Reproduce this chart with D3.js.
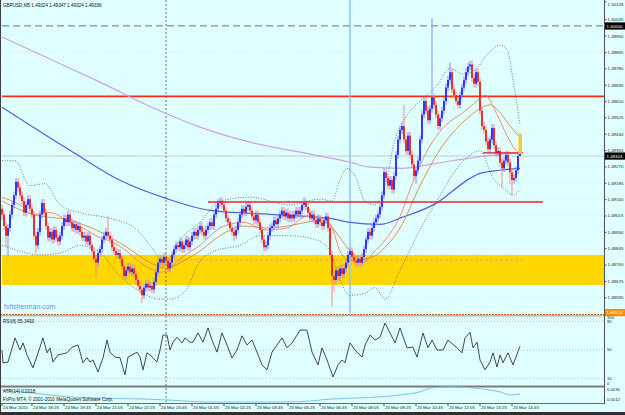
<!DOCTYPE html>
<html>
<head>
<meta charset="utf-8">
<script src="https://cdn.jsdelivr.net/npm/d3@7"></script>
<style>
  body { margin: 0; background: #e0ffff; }
  svg { display: block; font-family: "Liberation Sans", Arial, sans-serif; }
</style>
</head>
<body>
<div id="chart"></div>
<script>
// GBPUSD M5 candles, bar 0 = 24 Mar 17:10
const opens = [1.4905,1.4902,1.4896,1.4891,1.4895,1.4902,1.4907,1.4912,1.4919,1.4916,
1.4912,1.4909,1.4903,1.4907,1.4910,1.4905,1.4902,1.4891,1.4886,1.4893,
1.4902,1.4908,1.4903,1.4896,1.4890,1.4893,1.4889,1.4894,1.4890,1.4888,
1.4891,1.4896,1.4900,1.4898,1.4902,1.4898,1.4895,1.4897,1.4894,1.4896,
1.4893,1.4890,1.4891,1.4888,1.4891,1.4886,1.4883,1.4879,1.4877,1.4882,
1.4884,1.4889,1.4891,1.4893,1.4891,1.4889,1.4885,1.4883,1.4881,1.4882,
1.4879,1.4875,1.4870,1.4873,1.4875,1.4872,1.4874,1.4871,1.4868,1.4865,
1.4863,1.4860,1.4864,1.4866,1.4864,1.4865,1.4863,1.4867,1.4872,1.4877,
1.4879,1.4877,1.4880,1.4878,1.4874,1.4877,1.4881,1.4884,1.4886,1.4885,
1.4888,1.4884,1.4886,1.4889,1.4885,1.4888,1.4891,1.4893,1.4891,1.4894,
1.4896,1.4893,1.4891,1.4894,1.4896,1.4898,1.4896,1.4902,1.4905,1.4908,
1.4909,1.4907,1.4904,1.4900,1.4898,1.4895,1.4893,1.4891,1.4894,1.4898,
1.4902,1.4905,1.4903,1.4906,1.4907,1.4904,1.4901,1.4899,1.4902,1.4898,
1.4894,1.4889,1.4885,1.4886,1.4891,1.4895,1.4896,1.4899,1.4897,1.4900,
1.4902,1.4904,1.4901,1.4903,1.4900,1.4902,1.4900,1.4902,1.4904,1.4902,
1.4904,1.4907,1.4908,1.4906,1.4903,1.4900,1.4902,1.4899,1.4897,1.4900,
1.4898,1.4896,1.4899,1.4901,1.4895,1.4881,1.4870,1.4868,1.4873,1.4870,
1.4874,1.4871,1.4874,1.4877,1.4881,1.4883,1.4880,1.4878,1.4877,1.4879,
1.4877,1.4880,1.4884,1.4889,1.4893,1.4891,1.4895,1.4898,1.4900,1.4902,
1.4906,1.4912,1.4924,1.4921,1.4917,1.4920,1.4915,1.4922,1.4933,1.4941,
1.4946,1.4948,1.4941,1.4935,1.4943,1.4933,1.4928,1.4922,1.4925,1.4930,
1.4941,1.4954,1.4961,1.4956,1.4951,1.4957,1.4963,1.4959,1.4954,1.4948,
1.4952,1.4956,1.4961,1.4968,1.4972,1.4976,1.4967,1.4964,1.4961,1.4959,
1.4964,1.4968,1.4972,1.4976,1.4979,1.4980,1.4973,1.4970,1.4976,1.4971,
1.4956,1.4948,1.4946,1.4940,1.4936,1.4941,1.4947,1.4938,1.4934,1.4935,
1.4929,1.4926,1.4930,1.4933,1.4929,1.4924,1.4920,1.4921,1.4925,1.49324];
const highs = [1.4907,1.4904,1.4898,1.4897,1.4904,1.4909,1.4914,1.4921,1.4921,1.4918,
1.4914,1.4911,1.4909,1.4912,1.4912,1.4907,1.4904,1.4893,1.4895,1.4904,
1.4910,1.4910,1.4905,1.4898,1.4895,1.4895,1.4896,1.4896,1.4892,1.4893,
1.4898,1.4902,1.4902,1.4904,1.4904,1.4900,1.4899,1.4899,1.4898,1.4898,
1.4895,1.4893,1.4893,1.4893,1.4893,1.4888,1.4885,1.4881,1.4884,1.4886,
1.4891,1.4893,1.4895,1.4901,1.4893,1.4891,1.4887,1.4885,1.4884,1.4884,
1.4881,1.4877,1.4875,1.4877,1.4877,1.4876,1.4876,1.4873,1.4870,1.4867,
1.4865,1.4866,1.4868,1.4868,1.4867,1.4867,1.4869,1.4874,1.4879,1.4881,
1.4881,1.4882,1.4882,1.4880,1.4879,1.4883,1.4886,1.4888,1.4888,1.4890,
1.4890,1.4888,1.4891,1.4891,1.4890,1.4893,1.4895,1.4895,1.4896,1.4898,
1.4898,1.4895,1.4896,1.4898,1.4900,1.4900,1.4904,1.4907,1.4910,1.4911,
1.4911,1.4909,1.4906,1.4902,1.4900,1.4897,1.4895,1.4896,1.4900,1.4904,
1.4907,1.4907,1.4908,1.4909,1.4909,1.4906,1.4903,1.4904,1.4904,1.4900,
1.4896,1.4891,1.4888,1.4893,1.4897,1.4898,1.4901,1.4901,1.4902,1.4904,
1.4906,1.4906,1.4905,1.4905,1.4904,1.4904,1.4904,1.4906,1.4906,1.4906,
1.4909,1.4911,1.4910,1.4908,1.4905,1.4904,1.4904,1.4901,1.4902,1.4902,
1.4900,1.4901,1.4903,1.4903,1.4897,1.4883,1.4872,1.4875,1.4875,1.4876,
1.4876,1.4876,1.4879,1.4883,1.4885,1.4885,1.4882,1.4880,1.4881,1.4881,
1.4882,1.4886,1.4891,1.4895,1.4895,1.4897,1.4900,1.4902,1.4904,1.4908,
1.4914,1.4926,1.4926,1.4923,1.4922,1.4922,1.4924,1.4935,1.4943,1.4948,
1.4950,1.4959,1.4943,1.4945,1.4945,1.4935,1.4930,1.4927,1.4932,1.4943,
1.4956,1.4963,1.4963,1.4958,1.4959,1.5004,1.4965,1.4961,1.4956,1.4954,
1.4958,1.4963,1.4970,1.4974,1.4981,1.4978,1.4969,1.4966,1.4963,1.4966,
1.4970,1.4974,1.4978,1.4981,1.4982,1.4982,1.4975,1.4978,1.4978,1.4973,
1.4958,1.4950,1.4948,1.4942,1.4943,1.4949,1.4949,1.4940,1.4937,1.4937,
1.4931,1.4932,1.4935,1.4935,1.4931,1.4926,1.4923,1.4927,1.4934,1.49347];
const lows = [1.4899,1.4894,1.4885,1.4880,1.4893,1.4900,1.4905,1.4910,1.4914,1.4910,
1.4907,1.4901,1.4901,1.4905,1.4903,1.4900,1.4889,1.4882,1.4884,1.4891,
1.4900,1.4901,1.4894,1.4888,1.4888,1.4887,1.4887,1.4888,1.4886,1.4886,
1.4889,1.4894,1.4896,1.4896,1.4896,1.4893,1.4893,1.4892,1.4892,1.4891,
1.4888,1.4888,1.4886,1.4886,1.4884,1.4881,1.4877,1.4869,1.4875,1.4880,
1.4882,1.4887,1.4889,1.4889,1.4887,1.4883,1.4881,1.4879,1.4879,1.4877,
1.4873,1.4868,1.4868,1.4871,1.4870,1.4870,1.4869,1.4866,1.4863,1.4861,
1.4856,1.4858,1.4862,1.4862,1.4862,1.4861,1.4861,1.4865,1.4870,1.4875,
1.4875,1.4875,1.4876,1.4872,1.4872,1.4875,1.4879,1.4882,1.4883,1.4883,
1.4882,1.4882,1.4884,1.4883,1.4883,1.4886,1.4889,1.4889,1.4889,1.4892,
1.4891,1.4889,1.4889,1.4892,1.4894,1.4894,1.4894,1.4900,1.4903,1.4906,
1.4905,1.4902,1.4898,1.4896,1.4893,1.4891,1.4888,1.4889,1.4892,1.4896,
1.4900,1.4901,1.4901,1.4904,1.4902,1.4899,1.4897,1.4897,1.4896,1.4892,
1.4887,1.4883,1.4883,1.4884,1.4889,1.4893,1.4894,1.4895,1.4895,1.4898,
1.4900,1.4899,1.4899,1.4898,1.4898,1.4898,1.4898,1.4900,1.4900,1.4900,
1.4902,1.4905,1.4904,1.4901,1.4898,1.4898,1.4897,1.4895,1.4895,1.4896,
1.4894,1.4894,1.4897,1.4893,1.4879,1.4854,1.4862,1.4866,1.4868,1.4868,
1.4869,1.4869,1.4872,1.4875,1.4879,1.4878,1.4876,1.4875,1.4875,1.4875,
1.4875,1.4878,1.4882,1.4887,1.4889,1.4889,1.4893,1.4896,1.4898,1.4900,
1.4904,1.4910,1.4919,1.4915,1.4915,1.4913,1.4913,1.4920,1.4931,1.4939,
1.4944,1.4939,1.4933,1.4933,1.4931,1.4926,1.4920,1.4918,1.4923,1.4928,
1.4939,1.4952,1.4954,1.4949,1.4949,1.4955,1.4957,1.4952,1.4946,1.4946,
1.4950,1.4954,1.4959,1.4966,1.4970,1.4965,1.4962,1.4959,1.4957,1.4957,
1.4962,1.4966,1.4970,1.4974,1.4977,1.4971,1.4968,1.4968,1.4969,1.4954,
1.4946,1.4944,1.4938,1.4934,1.4934,1.4939,1.4936,1.4932,1.4932,1.4927,
1.4916,1.4924,1.4928,1.4927,1.4918,1.4912,1.4918,1.4919,1.4923,1.49324];
const closes = [1.4902,1.4896,1.4891,1.4895,1.4902,1.4907,1.4912,1.4919,1.4916,1.4912,
1.4909,1.4903,1.4907,1.4910,1.4905,1.4902,1.4891,1.4886,1.4893,1.4902,
1.4908,1.4903,1.4896,1.4890,1.4893,1.4889,1.4894,1.4890,1.4888,1.4891,
1.4896,1.4900,1.4898,1.4902,1.4898,1.4895,1.4897,1.4894,1.4896,1.4893,
1.4890,1.4891,1.4888,1.4891,1.4886,1.4883,1.4879,1.4877,1.4882,1.4884,
1.4889,1.4891,1.4893,1.4891,1.4889,1.4885,1.4883,1.4881,1.4882,1.4879,
1.4875,1.4870,1.4873,1.4875,1.4872,1.4874,1.4871,1.4868,1.4865,1.4863,
1.4860,1.4864,1.4866,1.4864,1.4865,1.4863,1.4867,1.4872,1.4877,1.4879,
1.4877,1.4880,1.4878,1.4874,1.4877,1.4881,1.4884,1.4886,1.4885,1.4888,
1.4884,1.4886,1.4889,1.4885,1.4888,1.4891,1.4893,1.4891,1.4894,1.4896,
1.4893,1.4891,1.4894,1.4896,1.4898,1.4896,1.4902,1.4905,1.4908,1.4909,
1.4907,1.4904,1.4900,1.4898,1.4895,1.4893,1.4891,1.4894,1.4898,1.4902,
1.4905,1.4903,1.4906,1.4907,1.4904,1.4901,1.4899,1.4902,1.4898,1.4894,
1.4889,1.4885,1.4886,1.4891,1.4895,1.4896,1.4899,1.4897,1.4900,1.4902,
1.4904,1.4901,1.4903,1.4900,1.4902,1.4900,1.4902,1.4904,1.4902,1.4904,
1.4907,1.4908,1.4906,1.4903,1.4900,1.4902,1.4899,1.4897,1.4900,1.4898,
1.4896,1.4899,1.4901,1.4895,1.4881,1.4870,1.4868,1.4873,1.4870,1.4874,
1.4871,1.4874,1.4877,1.4881,1.4883,1.4880,1.4878,1.4877,1.4879,1.4877,
1.4880,1.4884,1.4889,1.4893,1.4891,1.4895,1.4898,1.4900,1.4902,1.4906,
1.4912,1.4924,1.4921,1.4917,1.4920,1.4915,1.4922,1.4933,1.4941,1.4946,
1.4948,1.4941,1.4935,1.4943,1.4933,1.4928,1.4922,1.4925,1.4930,1.4941,
1.4954,1.4961,1.4956,1.4951,1.4957,1.4963,1.4959,1.4954,1.4948,1.4952,
1.4956,1.4961,1.4968,1.4972,1.4976,1.4967,1.4964,1.4961,1.4959,1.4964,
1.4968,1.4972,1.4976,1.4979,1.4980,1.4973,1.4970,1.4976,1.4971,1.4956,
1.4948,1.4946,1.4940,1.4936,1.4941,1.4947,1.4938,1.4934,1.4935,1.4929,
1.4926,1.4930,1.4933,1.4929,1.4924,1.4920,1.4921,1.4925,1.49324,1.49336];

// indicator lines: [bar, value]
const lavenderMA = [[0,1.49943],[24,1.49828],[49,1.49708],[78,1.49563],[99,1.49474],[124,1.49396],[149,1.49344],[174,1.49292],[184,1.49266],[200,1.49260],[217,1.49286],[234,1.49313],[249,1.49333],[259,1.49339]];
const blueMA = [[0,1.49578],[34,1.49354],[59,1.49198],[82,1.49104],[104,1.49042],[134,1.49021],[164,1.49000],[174,1.48979],[189,1.48969],[200,1.49005],[217,1.49078],[234,1.49208],[239,1.49234],[249,1.49250],[259,1.49260]];
const salmonMA = [[0,1.4911],[9,1.4907],[15.5,1.4902],[24,1.4903],[34,1.4898],[40.5,1.4895],[49,1.4890],[56.5,1.4887],[62.5,1.4883],[69,1.4877],[74,1.4874],[79,1.4872],[82.5,1.4873],[89,1.4879],[99,1.4886],[109,1.4895],[120.5,1.4898],[132.5,1.4894],[142.5,1.4895],[152.5,1.4901],[160.5,1.4900],[165.5,1.4894],[169,1.4883],[174,1.4878],[180.5,1.4877],[185.5,1.4882],[192.5,1.4890],[199,1.4901],[204,1.4915],[212.5,1.4935],[220.5,1.4947],[230.5,1.4955],[237.5,1.4961],[241.5,1.4964],[247.5,1.4954],[252.5,1.4943],[256.5,1.4936],[259,1.4934]];
const orangeMA = [[0,1.4909],[15.5,1.4902],[34,1.4899],[49,1.4893],[62.5,1.4885],[74,1.4877],[82.5,1.4874],[89,1.4877],[99,1.4883],[109,1.4891],[120.5,1.4896],[132.5,1.4895],[142.5,1.4896],[152.5,1.4898],[160.5,1.4899],[169,1.4890],[174,1.4883],[180.5,1.4879],[185.5,1.4880],[192.5,1.4886],[199,1.4895],[209,1.4917],[220.5,1.4938],[230.5,1.4950],[239,1.4957],[244,1.4959],[249,1.4955],[254,1.4948],[259,1.4942]];
const bandUpper = [[0,1.4930],[6.5,1.4930],[14,1.4917],[21.5,1.4918],[29,1.4907],[39,1.4903],[54,1.4900],[66.5,1.4895],[74,1.4886],[81.5,1.4877],[89,1.4889],[99,1.4898],[109,1.4909],[124,1.4911],[144,1.4907],[159,1.4910],[165,1.4909],[169,1.4920],[172.5,1.4926],[176.5,1.4922],[181.5,1.4909],[186.5,1.4907],[191.5,1.4917],[196.5,1.4941],[201.5,1.4952],[209,1.4961],[217.5,1.4969],[224,1.4978],[230.5,1.4975],[236.5,1.4977],[242.5,1.4985],[249,1.4990],[252.5,1.4988],[255.5,1.4972],[259,1.4949]];
const bandLower = [[0,1.4886],[9,1.4883],[19,1.4881],[29,1.4882],[39,1.4886],[49,1.4882],[59,1.4870],[69,1.4862],[79,1.4858],[84,1.4858],[91.5,1.4862],[99,1.4878],[106.5,1.4883],[119,1.4886],[129,1.4891],[144,1.4891],[156.5,1.4889],[164,1.4883],[169,1.4868],[174,1.4860],[181.5,1.4861],[186.5,1.4864],[191.5,1.4858],[199,1.4873],[209,1.4894],[219,1.4912],[229,1.4928],[239,1.4935],[245.5,1.4921],[251.5,1.4915],[255.5,1.4912],[259,1.4915]];
const rsiLine = [[0,50],[0.5,32],[3,33],[6.5,67],[9,50],[10.5,60],[12.5,43],[15.5,25],[19,54],[20.5,67],[22.5,46],[24,53],[25.5,33],[28,43],[32.5,46],[35,54],[38,57],[40.5,32],[42.5,39],[44,33],[45.5,36],[48,19],[50.5,39],[52.5,64],[54,47],[56.5,40],[59,39],[61.5,15],[63,40],[65,43],[67.5,47],[69,40],[70.5,22],[72.5,46],[74,43],[75.5,39],[77.5,33],[79,50],[80.5,71],[82.5,71],[84,50],[85.5,61],[87.5,68],[90,60],[91.5,67],[94,61],[95.5,61],[98,74],[100.5,61],[103,81],[105,64],[107.5,47],[110,74],[112.5,57],[115,39],[117.5,50],[120,70],[122.5,57],[125,64],[127.5,47],[130,29],[132.5,22],[135,47],[137.5,57],[140,67],[142.5,53],[145,60],[147.5,71],[149,78],[152.5,78],[155,47],[158,29],[160,53],[162.5,36],[165.5,12],[168,29],[170,36],[171.5,32],[174,60],[176.5,50],[180,40],[181.5,57],[184,71],[186.5,64],[189,68],[191.5,88],[194,74],[196.5,60],[199,81],[202.5,53],[205.5,54],[207.5,40],[210.5,74],[213,53],[215,64],[217.5,50],[220.5,50],[223,64],[227.5,53],[230,46],[231.5,67],[234,75],[235.5,53],[237.5,61],[239,36],[241.5,22],[244,33],[245.5,46],[247.5,26],[249,43],[250.5,32],[253,46],[255.5,29],[259,55.35]];
const atrLine = [[0,0.0034],[16,0.0027],[32,0.0019],[49,0.0016],[70,0.0014],[82,0.0012],[104,0.0007],[132,0.0007],[149,0.0008],[165,0.0014],[182,0.0017],[199,0.0023],[209,0.0030],[215,0.0039],[225,0.0041],[235,0.0039],[244,0.0034],[249,0.0030],[254,0.0023],[259,0.0025]];

// horizontal objects
const priceTicks = [1.50128,1.50035,1.49950,1.49865,1.49780,1.49695,1.49610,1.49525,1.49440,1.49355,1.49270,1.49185,1.49100,1.49015,1.48930,1.48845,1.48760,1.48675,1.48590];
const markedPrices = [1.50000, 1.49324, 1.48510];
const markedColors = ["#000000", "#000000", "#ff8c00"];
const zoneTop = 1.48810, zoneBottom = 1.48654;
const redLevel = 1.49634;
const supportLevel = 1.49085, supportFrom = 103, supportTo = 270.5;
const shortLevel = 1.49340, shortFrom = 240.5, shortTo = 260.5;
const zoneMid = 1.48784, zoneMidFrom = 84, zoneMidTo = 260;
const spikeBar = 259, spikeTop = 1.4944;
const dottedVBar = 82, blueVBar = 174;

const timeBars = [0,15,31,47,63,79,95,111,127,143,159,175,191,207,223,239,255];
const timeTexts = ["24 Mar 2010","24 Mar 18:25","24 Mar 19:45","24 Mar 21:05","24 Mar 22:25","24 Mar 23:45","25 Mar 01:05","25 Mar 02:25","25 Mar 03:45","25 Mar 05:25","25 Mar 06:45","25 Mar 08:05","25 Mar 09:25","25 Mar 10:45","25 Mar 12:05","25 Mar 13:25","25 Mar 14:45"];
const rsiLevels = [90, 50, 10];
const rsiLabels = ["100","90","50","10","0"];
const atrLabels = [0.0036, 0.0012];

const W = 625, H = 415;
const axisX = 604;
const mainTop = 0, mainBottom = 314;
const atrBottom = 403;

const svg = d3.select("#chart").append("svg")
  .attr("width", W).attr("height", H);

svg.append("rect").attr("width", W).attr("height", H).attr("fill", "#e0ffff");

const x = d3.scaleLinear().domain([0, 259]).range([2, 520]);
const y = d3.scaleLinear().domain([1.48503, 1.50135]).range([mainBottom, mainTop]);
const yR = d3.scaleLinear().domain([0, 100]).range([385.5, 314.5]);
const yA = d3.scaleLinear().domain([0.0005, 0.0042]).range([403, 386.5]);

// faint grid
const grid = svg.append("g").attr("stroke", "#a8c8c8").attr("stroke-dasharray", "1,3").attr("stroke-width", 0.6).attr("opacity", 0.6);
grid.selectAll("line.h").data(priceTicks.slice(1)).join("line")
  .attr("x1", 2).attr("x2", axisX).attr("y1", d => y(d)).attr("y2", d => y(d));
grid.selectAll("line.v").data(timeBars.slice(1)).join("line")
  .attr("x1", d => x(d)).attr("x2", d => x(d)).attr("y1", 0).attr("y2", mainBottom);

// gold zone
svg.append("rect").attr("x", 2).attr("width", axisX - 2)
  .attr("y", y(zoneTop)).attr("height", y(zoneBottom) - y(zoneTop)).attr("fill", "#ffd700");
svg.append("line").attr("x1", x(zoneMidFrom)).attr("x2", x(zoneMidTo))
  .attr("y1", y(zoneMid)).attr("y2", y(zoneMid))
  .attr("stroke", "#c8a0a0").attr("stroke-dasharray", "3,2").attr("stroke-width", 0.8);

// level lines
svg.append("line").attr("x1", 2).attr("x2", axisX).attr("y1", y(1.5)).attr("y2", y(1.5))
  .attr("stroke", "#8c8c8c").attr("stroke-width", 1.2).attr("stroke-dasharray", "7,4");
svg.append("line").attr("x1", 2).attr("x2", axisX).attr("y1", y(redLevel)).attr("y2", y(redLevel))
  .attr("stroke", "#ff2a10").attr("stroke-width", 1.6);
svg.append("line").attr("x1", 2).attr("x2", axisX).attr("y1", y(markedPrices[1])).attr("y2", y(markedPrices[1]))
  .attr("stroke", "#b4b4b4").attr("stroke-width", 0.7);

// vertical markers
svg.append("line").attr("x1", x(blueVBar)).attr("x2", x(blueVBar)).attr("y1", 0).attr("y2", mainBottom - 1)
  .attr("stroke", "#8ec0e4").attr("stroke-width", 1.4);
svg.append("line").attr("x1", x(dottedVBar)).attr("x2", x(dottedVBar)).attr("y1", 0).attr("y2", atrBottom)
  .attr("stroke", "#505050").attr("stroke-width", 0.8).attr("stroke-dasharray", "2,2");

// moving averages and bands
const line = d3.line().x(d => x(d[0])).y(d => y(d[1])).curve(d3.curveMonotoneX);
svg.append("path").datum(lavenderMA).attr("d", line).attr("fill", "none").attr("stroke", "#c9a2e6").attr("stroke-width", 1.2);
svg.append("path").datum(blueMA).attr("d", line).attr("fill", "none").attr("stroke", "#4a62e6").attr("stroke-width", 1.2);
[bandUpper, bandLower].forEach(b => {
  svg.append("path").datum(b).attr("d", line).attr("fill", "none")
    .attr("stroke", "#555").attr("stroke-width", 0.8).attr("stroke-dasharray", "1,1.6");
});
svg.append("path").datum(orangeMA).attr("d", line).attr("fill", "none").attr("stroke", "#d58a3c").attr("stroke-width", 0.9);
svg.append("path").datum(salmonMA).attr("d", line).attr("fill", "none").attr("stroke", "#f27c74").attr("stroke-width", 0.9);

// candles
const bars = closes.map((c, i) => ({ i, o: opens[i], h: highs[i], l: lows[i], c }));
const up = d => d.c >= d.o;
const cg = svg.append("g");
cg.selectAll("line").data(bars).join("line")
  .attr("x1", d => x(d.i)).attr("x2", d => x(d.i))
  .attr("y1", d => y(d.h)).attr("y2", d => y(d.l))
  .attr("stroke", d => up(d) ? "#8a8aff" : "#f58a8a").attr("stroke-width", 1);
cg.selectAll("rect").data(bars).join("rect")
  .attr("x", d => x(d.i) - 0.9).attr("width", 1.8)
  .attr("y", d => y(Math.max(d.o, d.c)))
  .attr("height", d => Math.max(1, y(Math.min(d.o, d.c)) - y(Math.max(d.o, d.c))))
  .attr("fill", d => up(d) ? "#2626ff" : "#f01e1e");

// red trend objects
svg.append("line").attr("x1", x(supportFrom)).attr("x2", x(supportTo))
  .attr("y1", y(supportLevel)).attr("y2", y(supportLevel))
  .attr("stroke", "#f0202a").attr("stroke-width", 1.4);
svg.append("line").attr("x1", x(shortFrom)).attr("x2", x(shortTo))
  .attr("y1", y(shortLevel)).attr("y2", y(shortLevel))
  .attr("stroke", "#e8101a").attr("stroke-width", 1.2);
svg.append("rect").attr("x", x(spikeBar) - 1.5).attr("width", 3.5)
  .attr("y", y(spikeTop)).attr("height", y(closes[spikeBar]) - y(spikeTop))
  .attr("fill", "#ffc830");

// panel separators
svg.append("line").attr("x1", 0).attr("x2", axisX).attr("y1", 314.5).attr("y2", 314.5)
  .attr("stroke", "#c86414").attr("stroke-width", 1.2).attr("stroke-dasharray", "2,1");
svg.append("line").attr("x1", 0).attr("x2", axisX).attr("y1", 315.8).attr("y2", 315.8)
  .attr("stroke", "#808080").attr("stroke-width", 0.8);
svg.append("rect").attr("x", 0).attr("width", axisX).attr("y", 385.5).attr("height", 2).attr("fill", "#7a7a7a");
svg.append("line").attr("x1", 0).attr("x2", axisX).attr("y1", atrBottom + 0.5).attr("y2", atrBottom + 0.5)
  .attr("stroke", "#6a6a6a").attr("stroke-width", 1);

// RSI panel
svg.selectAll("line.rl").data(rsiLevels).join("line")
  .attr("x1", 2).attr("x2", axisX).attr("y1", d => yR(d)).attr("y2", d => yR(d))
  .attr("stroke", "#9a9a9a").attr("stroke-width", 0.6).attr("stroke-dasharray", "1,2");
svg.append("path").datum(rsiLine)
  .attr("d", d3.line().x(d => x(d[0])).y(d => yR(d[1])))
  .attr("fill", "none").attr("stroke", "#333").attr("stroke-width", 0.9);

// ATR panel
svg.append("path").datum(atrLine)
  .attr("d", d3.line().x(d => x(d[0])).y(d => yA(d[1])).curve(d3.curveMonotoneX))
  .attr("fill", "none").attr("stroke", "#7ec0f0").attr("stroke-width", 1);

// right axis
svg.append("line").attr("x1", axisX + 0.5).attr("x2", axisX + 0.5).attr("y1", 0).attr("y2", atrBottom + 1)
  .attr("stroke", "#505050").attr("stroke-width", 1);
const axisG = svg.append("g").attr("transform", `translate(${axisX + 0.5},0)`)
  .call(d3.axisRight(y).tickValues(priceTicks).tickSize(2).tickFormat(d3.format(".5f")));
axisG.select(".domain").remove();
axisG.selectAll("line").attr("stroke", "#505050");
axisG.selectAll("text").attr("x", 3).attr("font-size", 4.4).attr("fill", "#202020")
  .attr("font-family", "Liberation Sans, Arial, sans-serif")
  .attr("y", d => d === priceTicks[0] ? 2.5 : 0);

const marks = svg.append("g");
markedPrices.forEach((p, k) => {
  marks.append("rect").attr("x", axisX + 1).attr("y", y(p) - 3.6).attr("width", 20).attr("height", 7.2)
    .attr("fill", markedColors[k]);
  marks.append("text").attr("x", axisX + 2.5).attr("y", y(p)).attr("dy", "0.35em")
    .attr("font-size", 4.4).attr("fill", "#ffffff").text(p.toFixed(5));
});

const rsiLabelY = [317.5, 322, yR(50), yR(10), 384];
svg.selectAll("text.rsi").data(rsiLabels).join("text")
  .attr("x", axisX + 3).attr("y", (d, k) => rsiLabelY[k]).attr("dy", "0.35em")
  .attr("font-size", 4.2).attr("fill", "#202020").text(d => d);
svg.selectAll("text.atr").data(atrLabels).join("text")
  .attr("x", axisX + 3).attr("y", d => yA(d)).attr("dy", "0.35em")
  .attr("font-size", 4.2).attr("fill", "#202020").text(d => d.toFixed(4));

// time axis
const tg = svg.append("g");
tg.selectAll("line").data(timeBars).join("line")
  .attr("x1", d => x(d)).attr("x2", d => x(d)).attr("y1", atrBottom + 1).attr("y2", atrBottom + 3)
  .attr("stroke", "#505050");
tg.selectAll("text").data(timeBars).join("text")
  .attr("x", d => x(d) + 1).attr("y", 409)
  .attr("font-size", 4.4).attr("fill", "#202020")
  .text((d, k) => timeTexts[k]);

// frame
svg.append("line").attr("x1", 0.5).attr("x2", 0.5).attr("y1", 0).attr("y2", H).attr("stroke", "#404040");
svg.append("rect").attr("x", 0).attr("y", 412).attr("width", W).attr("height", 3).attr("fill", "#303030");

// captions
svg.append("text").attr("x", 3).attr("y", 7).attr("font-size", 4.6).attr("fill", "#101010")
  .text("GBPUSD,M5  1.49324 1.49347 1.49324 1.49336");
svg.append("text").attr("x", 4).attr("y", 308.5).attr("font-size", 7).attr("fill", "#6e92e6")
  .text("fxfisherman.com");
svg.append("text").attr("x", 3).attr("y", 322.5).attr("font-size", 4.6).attr("fill", "#101010")
  .text("RSI(8) 55.3493");
svg.append("text").attr("x", 3).attr("y", 392.5).attr("font-size", 4.6).attr("fill", "#101010")
  .text("ATR(14) 0.0018");
svg.append("text").attr("x", 3).attr("y", 401).attr("font-size", 4.6).attr("fill", "#101010")
  .text("FxPro MT4, \u00a9 2001-2010 MetaQuotes Software Corp.");
</script>
</body>
</html>
